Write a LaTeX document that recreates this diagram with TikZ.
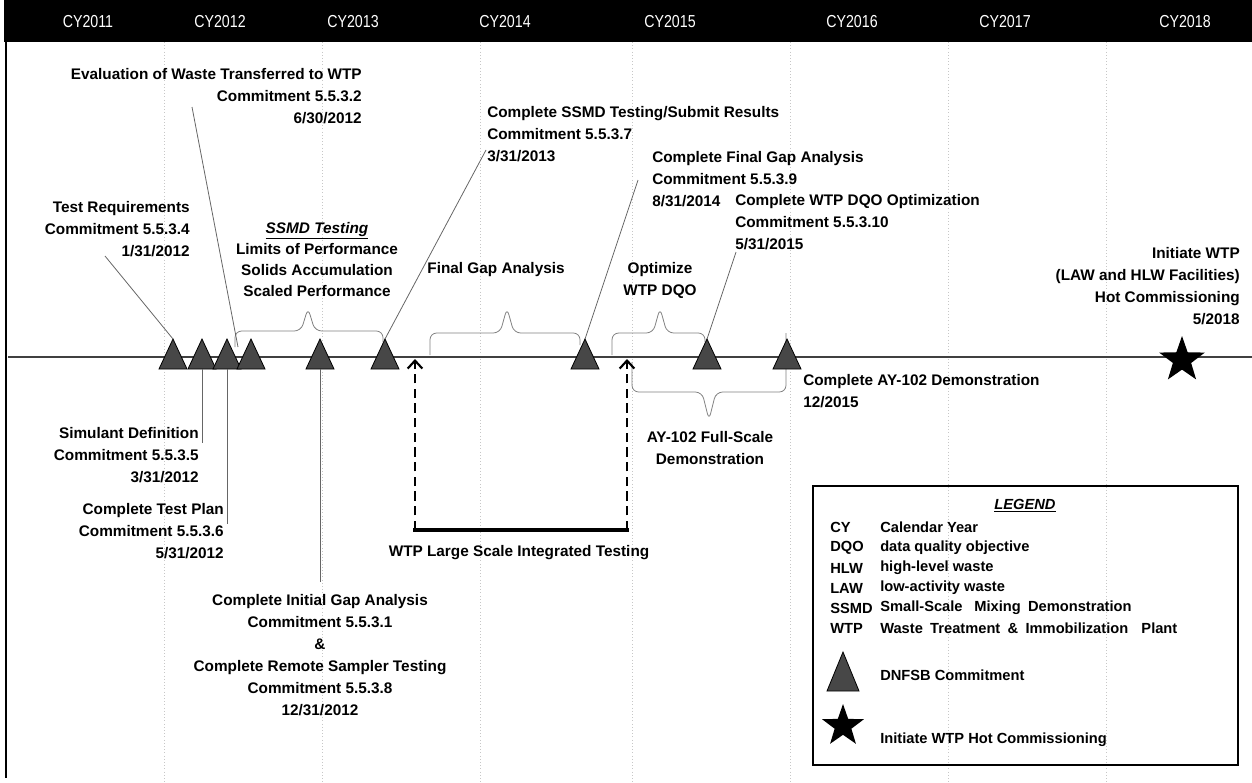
\documentclass[tikz,border=0pt]{standalone}
\usepackage{fontspec}
\setmainfont{Liberation Sans}
\newfontfamily\hdrfont{Liberation Sans}[FakeStretch=0.82]
\usetikzlibrary{shapes.geometric,arrows.meta}
\newcommand\cmtri[2]{%
  \coordinate (#1) at (#2,339);
  \coordinate (#1b) at (#2,369);
  \filldraw[tri] (#2-14,369) -- (#2+14,369) -- (#1) -- cycle;}
\begin{document}
\begin{tikzpicture}[x=0.75pt,y=-0.75pt,
  lbl/.style={font=\bfseries\fontsize{11.5}{16.5}\selectfont, inner sep=0pt},
  lgd/.style={font=\bfseries\fontsize{11}{15}\selectfont, inner sep=0pt, anchor=west},
  hdr/.style={font=\hdrfont\fontsize{13}{13}\selectfont, text=white, inner sep=0pt},
  tri/.style={draw=black, fill=black!72, line width=0.6pt},
  leader/.style={draw=black!60, line width=0.6pt},
  brace/.style={draw=black!50, line width=0.6pt, rounded corners=5pt},
  grid/.style={draw=black!22, line width=0.4pt, dotted},
  dasharrow/.style={draw=black, line width=2.2pt, dash pattern=on 7pt off 4pt, -{Straight Barb[length=6pt,width=11pt,line width=1.6pt]}},
  bigstar/.style={star, star points=5, star point ratio=2.5, fill=black, inner sep=0pt}]
\useasboundingbox (0,0) rectangle (1252,782);
% faint grid lines
\foreach \gx in {164,322,480,632,790,948,1106} \draw[grid] (\gx,42) -- (\gx,782);
% header
\fill[black] (4,0) rectangle (1252,42);
\node[hdr] (y11) at (88,22) {CY2011};
\node[hdr] (y12) at (220,22) {CY2012};
\node[hdr] (y13) at (353,22) {CY2013};
\node[hdr] (y14) at (505,22) {CY2014};
\node[hdr] (y15) at (670,22) {CY2015};
\node[hdr] (y16) at (852,22) {CY2016};
\node[hdr] (y17) at (1005,22) {CY2017};
\node[hdr] (y18) at (1185,22) {CY2018};
% left border
\draw[black, line width=2.2pt] (6,0) -- (6,778);
% timeline
\coordinate (tlA) at (8,357);
\coordinate (tlB) at (1252,357);
\draw[black!75, line width=2.2pt] (tlA) -- (tlB);
% braces
\draw[brace] (235,347) -- (235,331) -- (301,331) -- (308,308) -- (315,331) -- (383,331) -- (383,342);
\draw[brace] (430,355) -- (430,333) -- (500,333) -- (507,308) -- (514,333) -- (580,333) -- (580,345);
\draw[brace] (612,355) -- (612,333) -- (653,333) -- (660,308) -- (667,333) -- (705,333) -- (705,342);
\draw[brace] (632,362) -- (632,392) -- (702,392) -- (709,420) -- (716,392) -- (786,392) -- (786,333);
% texts above
\node[lbl, anchor=north east, align=right] (evalT) at (362,68) {Evaluation of Waste Transferred to WTP\\Commitment 5.5.3.2\\6/30/2012};
\node[lbl, anchor=north east, align=right] (treqT) at (190,201) {Test Requirements\\Commitment 5.5.3.4\\1/31/2012};
\node[lbl, anchor=north, align=center, font=\bfseries\fontsize{11.5}{15.8}\selectfont] (ssmdT) at (317,222) {\underline{\textit{SSMD Testing}}\\Limits of Performance\\Solids Accumulation\\Scaled Performance};
\node[lbl, anchor=north west, align=left] (cssmdT) at (487,106) {Complete SSMD Testing/Submit Results\\Commitment 5.5.3.7\\3/31/2013};
\node[lbl, anchor=north west, align=left] (cfgaT) at (652,151) {Complete Final Gap Analysis\\Commitment 5.5.3.9\\8/31/2014};
\node[lbl, anchor=north west, align=left] (cdqoT) at (735,194) {Complete WTP DQO Optimization\\Commitment 5.5.3.10\\5/31/2015};
\node[lbl, anchor=north] (fgaT) at (496,262) {Final Gap Analysis};
\node[lbl, anchor=north, align=center] (optT) at (660,262) {Optimize\\WTP DQO};
\node[lbl, anchor=north east, align=right] (hotT) at (1240,247) {Initiate WTP\\(LAW and HLW Facilities)\\Hot Commissioning\\5/2018};
% texts below
\node[lbl, anchor=north west, align=left] (ay102T) at (803,374) {Complete AY-102 Demonstration\\12/2015};
\node[lbl, anchor=north east, align=right] (simT) at (199,427) {Simulant Definition\\Commitment 5.5.3.5\\3/31/2012};
\node[lbl, anchor=north east, align=right] (tplanT) at (224,503) {Complete Test Plan\\Commitment 5.5.3.6\\5/31/2012};
\node[lbl, anchor=north, align=center] (ayfsT) at (710,431) {AY-102 Full-Scale\\Demonstration};
\node[lbl, anchor=north] (lsitT) at (519,545) {WTP Large Scale Integrated Testing};
\node[lbl, anchor=north, align=center] (igaT) at (320,594) {Complete Initial Gap Analysis\\Commitment 5.5.3.1\\\&\\Complete Remote Sampler Testing\\Commitment 5.5.3.8\\12/31/2012};
% leader start points
\coordinate (lTreq) at (105,256);
\coordinate (lEval) at (192,107);
\coordinate (lCssmd) at (486,150);
\coordinate (lCfga) at (638,180);
\coordinate (lCdqo) at (736,252);
\coordinate (lSim) at (202,443);
\coordinate (lTplan) at (227,524);
\coordinate (lIga) at (320,582);
% triangles
\cmtri{t1}{173}
\cmtri{t2}{202}
\cmtri{t3}{227}
\cmtri{t4}{251}
\cmtri{t5}{320}
\cmtri{t6}{385}
\cmtri{t7}{585}
\cmtri{t8}{707}
\cmtri{t9}{787}
% leaders
\draw[leader] (lTreq) -- (t1);
\draw[leader] (lEval) -- (238,347);
\draw[leader] (lCssmd) -- (t6);
\draw[leader] (lCfga) -- (t7);
\draw[leader] (lCdqo) -- (t8);
\draw[leader] (t2b) -- (lSim);
\draw[leader] (t3b) -- (lTplan);
\draw[leader] (t5b) -- (lIga);
% star
\node[bigstar, minimum size=36pt] (hotStar) at (1182,360) {};
% LSIT arrows
\coordinate (aL) at (415,530);
\coordinate (aR) at (627,530);
\coordinate (aLt) at (415,359);
\coordinate (aRt) at (627,359);
\draw[black, line width=3pt] (413,530) -- (629,530);
\draw[dasharrow] (aL) -- (aLt);
\draw[dasharrow] (aR) -- (aRt);
% legend
\draw[black, line width=1.6pt] (813,486) rectangle (1238,765);
\node[lgd, anchor=north, font=\bfseries\itshape\fontsize{11}{15}\selectfont] (lgTitle) at (1025,499) {\underline{LEGEND}};
\node[lgd] (a1) at (830,527) {CY};   \node[lgd] (d1) at (880,527) {Calendar Year};
\node[lgd] (a2) at (830,548) {DQO};  \node[lgd] (d2) at (880,548) {data quality objective};
\node[lgd] (a3) at (830,568) {HLW};  \node[lgd] (d3) at (880,568) {high-level waste};
\node[lgd] (a4) at (830,588) {LAW};  \node[lgd] (d4) at (880,588) {low-activity waste};
\node[lgd] (a5) at (830,608) {SSMD}; \node[lgd] (d5) at (880,608) {Small-Scale\hspace{0.8em}Mixing\hspace{0.5em}Demonstration};
\node[lgd] (a6) at (830,628) {WTP};  \node[lgd] (d6) at (880,628) {Waste\hspace{0.5em}Treatment\hspace{0.5em}\&\hspace{0.5em}Immobilization\hspace{0.9em}Plant};
\coordinate (lgTri) at (843,652);
\filldraw[tri] (827,691) -- (859,691) -- (lgTri) -- cycle;
\node[lgd] (lgTriT) at (880,675) {DNFSB Commitment};
\node[bigstar, minimum size=33pt] (lgStar) at (843,726) {};
\node[lgd] (lgStarT) at (880,740) {Initiate WTP Hot Commissioning};
\end{tikzpicture}
\end{document}
